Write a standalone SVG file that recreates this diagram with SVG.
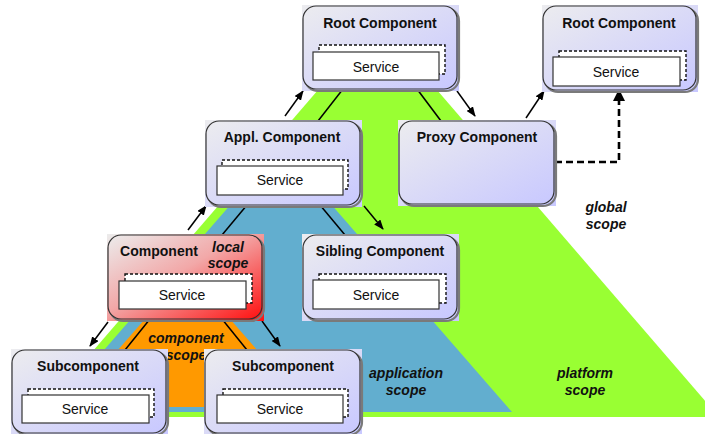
<svg xmlns="http://www.w3.org/2000/svg" width="705" height="434" viewBox="0 0 705 434">
<defs>
<linearGradient id="gL" x1="0" y1="0" x2="1" y2="1">
<stop offset="0" stop-color="#ececef"/>
<stop offset="1" stop-color="#c8c8ff"/>
</linearGradient>
<linearGradient id="gR" x1="0" y1="0" x2="1" y2="1">
<stop offset="0" stop-color="#ececec"/>
<stop offset="0.45" stop-color="#f2a8a8"/>
<stop offset="1" stop-color="#ff1010"/>
</linearGradient>
<marker id="ah" viewBox="0 0 10 8" markerWidth="10" markerHeight="8" refX="9" refY="4" orient="auto" markerUnits="userSpaceOnUse">
<path d="M0,0 L10,4 L0,8 z" fill="#000"/>
</marker>
<marker id="ahb" viewBox="0 0 12 12" markerWidth="12" markerHeight="12" refX="11" refY="6" orient="auto" markerUnits="userSpaceOnUse">
<path d="M0,0 L12,6 L0,12 z" fill="#000"/>
</marker>
<style>
.sq{stroke:none}
.sh{fill:none;stroke:#7a7a7a;stroke-width:2.2}
.bx{stroke:#333;stroke-width:1.2}
.title{font-family:"Liberation Sans",Arial,sans-serif;font-weight:bold;font-size:14px;fill:#111;text-anchor:middle}
.svc{font-family:"Liberation Sans",Arial,sans-serif;font-size:14px;fill:#111;text-anchor:middle}
.scope{font-family:"Liberation Sans",Arial,sans-serif;font-weight:bold;font-style:italic;font-size:14px;fill:#111;text-anchor:middle}
.back{fill:#fff;stroke:#111;stroke-width:1.4;stroke-dasharray:3,2}
.front{fill:#fff;stroke:#333;stroke-width:1.2}
.ln{stroke:#000;stroke-width:1.5;fill:none}
.ar{stroke:#000;stroke-width:1.5;fill:none;marker-end:url(#ah)}
.dash{stroke:#000;stroke-width:2.6;fill:none;stroke-dasharray:7,4;marker-end:url(#ahb)}
</style>
</defs>
<rect width="705" height="434" fill="#fff"/>
<g id="scopes">
<polygon points="318,90 437,90 719,417 36,417" fill="#99ff33"/>
<polygon points="232,203 330,203 512,412 50,412" fill="#62aecf"/>
<polygon points="145,319 230,319 307,407 68,407" fill="#ff9900"/>
<text class="scope" x="186" y="343">component</text>
<text class="scope" x="186" y="360">scope</text>
<text class="scope" x="406" y="378">application</text>
<text class="scope" x="406" y="395">scope</text>
<text class="scope" x="585" y="378">platform</text>
<text class="scope" x="585" y="395">scope</text>
<text class="scope" x="606" y="212">global</text>
<text class="scope" x="606" y="229">scope</text>
</g>
<g id="connectors">
<line class="ln" x1="343" y1="89" x2="318" y2="121"/>
<line class="ln" x1="417" y1="89" x2="441" y2="121"/>
<line class="ln" x1="247" y1="205" x2="222" y2="235"/>
<line class="ln" x1="320" y1="205" x2="345" y2="235"/>
<line class="ln" x1="150" y1="319" x2="125" y2="350"/>
<line class="ln" x1="222" y1="319" x2="247" y2="350"/>
<line class="ar" x1="285" y1="116" x2="303" y2="91"/>
<line class="ar" x1="457" y1="91" x2="475" y2="116"/>
<line class="ar" x1="526" y1="118" x2="544" y2="91"/>
<line class="ar" x1="188" y1="230" x2="206" y2="206"/>
<line class="ar" x1="364" y1="206" x2="383" y2="229"/>
<line class="ar" x1="108" y1="322" x2="90" y2="346"/>
<line class="ar" x1="262" y1="321" x2="280" y2="346"/>
<polyline class="dash" points="555,162 619,162 619,90"/>
</g>
<g id="root">
<rect class="sq" x="302" y="5" width="157" height="86" fill="url(#gL)"/>
<rect class="sh" x="305" y="8" width="154" height="83" rx="13"/>
<rect class="bx" x="303" y="6" width="154" height="83" rx="13" fill="url(#gL)"/>
<text class="title" x="380" y="28">Root Component</text>
<rect class="back" x="319" y="45" width="126" height="29"/>
<rect class="front" x="313" y="52" width="126" height="28"/>
<text class="svc" x="376" y="72">Service</text>
</g>
<g id="root2">
<rect class="sq" x="542" y="5" width="156" height="87" fill="url(#gL)"/>
<rect class="sh" x="545" y="8" width="153" height="84" rx="13"/>
<rect class="bx" x="543" y="6" width="153" height="84" rx="13" fill="url(#gL)"/>
<text class="title" x="619" y="28">Root Component</text>
<rect class="back" x="559" y="51" width="127" height="29"/>
<rect class="front" x="553" y="57" width="127" height="29"/>
<text class="svc" x="616" y="77">Service</text>
</g>
<g id="appl">
<rect class="sq" x="205" y="120" width="157" height="87" fill="url(#gL)"/>
<rect class="sh" x="208" y="123" width="154" height="84" rx="13"/>
<rect class="bx" x="206" y="121" width="154" height="84" rx="13" fill="url(#gL)"/>
<text class="title" x="282" y="142">Appl. Component</text>
<rect class="back" x="222" y="160" width="126" height="29"/>
<rect class="front" x="217" y="166" width="126" height="29"/>
<text class="svc" x="280" y="185">Service</text>
</g>
<g id="proxy">
<rect class="sq" x="398" y="120" width="158" height="86" fill="url(#gL)"/>
<rect class="sh" x="401" y="123" width="155" height="83" rx="13"/>
<rect class="bx" x="399" y="121" width="155" height="83" rx="13" fill="url(#gL)"/>
<text class="title" x="477" y="142">Proxy Component</text>
</g>
<g id="component">
<rect class="sq" x="107" y="234" width="157" height="87" fill="url(#gR)"/>
<rect class="sh" x="110" y="237" width="154" height="84" rx="13"/>
<rect class="bx" x="108" y="235" width="154" height="84" rx="13" fill="url(#gR)"/>
<text class="title" x="159" y="256">Component</text>
<text class="scope" x="228" y="252">local</text>
<text class="scope" x="228" y="268">scope</text>
<rect class="back" x="125" y="274" width="127" height="29"/>
<rect class="front" x="119" y="281" width="127" height="28"/>
<text class="svc" x="182" y="300">Service</text>
</g>
<g id="sibling">
<rect class="sq" x="302" y="234" width="157" height="87" fill="url(#gL)"/>
<rect class="sh" x="305" y="237" width="154" height="84" rx="13"/>
<rect class="bx" x="303" y="235" width="154" height="84" rx="13" fill="url(#gL)"/>
<text class="title" x="380" y="256">Sibling Component</text>
<rect class="back" x="319" y="274" width="127" height="29"/>
<rect class="front" x="313" y="280" width="126" height="29"/>
<text class="svc" x="376" y="300">Service</text>
</g>
<g id="sub1">
<rect class="sq" x="11" y="349" width="157" height="86" fill="url(#gL)"/>
<rect class="sh" x="14" y="352" width="154" height="83" rx="13"/>
<rect class="bx" x="12" y="350" width="154" height="83" rx="13" fill="url(#gL)"/>
<text class="title" x="88" y="371">Subcomponent</text>
<rect class="back" x="28" y="389" width="126" height="28"/>
<rect class="front" x="22" y="395" width="127" height="28"/>
<text class="svc" x="85" y="414">Service</text>
</g>
<g id="sub2">
<rect class="sq" x="204" y="349" width="158" height="86" fill="url(#gL)"/>
<rect class="sh" x="207" y="352" width="155" height="83" rx="13"/>
<rect class="bx" x="205" y="350" width="155" height="83" rx="13" fill="url(#gL)"/>
<text class="title" x="283" y="371">Subcomponent</text>
<rect class="back" x="223" y="389" width="125" height="28"/>
<rect class="front" x="217" y="395" width="126" height="28"/>
<text class="svc" x="280" y="414">Service</text>
</g>
</svg>
